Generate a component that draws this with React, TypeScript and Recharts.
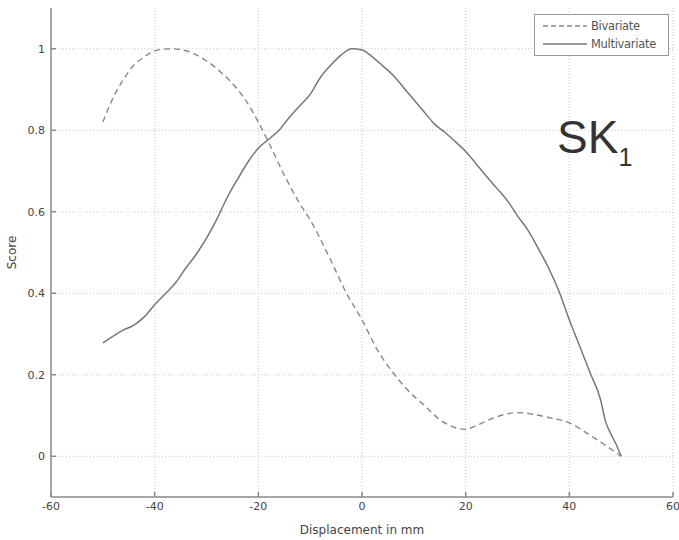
import {
  LineChart,
  Line,
  XAxis,
  YAxis,
  CartesianGrid,
  Legend,
} from "recharts";

const displacementTicks = [-60, -40, -20, 0, 20, 40, 60];
const scoreTicks = [0, 0.2, 0.4, 0.6, 0.8, 1];

const bivariateX = [
  -50, -48, -46, -44, -42, -40, -37, -34, -30, -27, -24, -22, -20, -18, -15,
  -12, -10, -6, -3, 0, 3, 6, 9, 12, 15, 18, 20, 22, 25, 28, 30, 33, 36, 40,
  43, 46, 48, 50,
];
const bivariateScore = [
  0.82, 0.88, 0.925, 0.96, 0.98, 0.995, 1.0, 0.995, 0.97, 0.94, 0.9, 0.865,
  0.82, 0.77, 0.69, 0.62, 0.58, 0.48, 0.4, 0.335, 0.26, 0.205, 0.16, 0.125,
  0.09, 0.07, 0.066, 0.075, 0.092, 0.104, 0.107, 0.103, 0.095, 0.082, 0.06,
  0.035, 0.018, 0.0,
];

const multivariateX = [
  -50, -48, -46, -44, -42, -40, -38, -36, -34, -32, -30, -28, -26, -24, -22,
  -20, -18, -16, -14, -12, -10, -8, -6, -4, -2, 0, 2, 4, 6, 8, 10, 12, 14, 16,
  18, 20, 22, 24, 26, 28, 30, 32, 34, 36, 38, 40, 42, 44, 46, 47, 48, 49, 50,
];
const multivariateScore = [
  0.278, 0.295, 0.31, 0.322, 0.342, 0.372, 0.398, 0.425, 0.462, 0.495, 0.535,
  0.582, 0.635, 0.68, 0.722, 0.756, 0.778, 0.8, 0.832, 0.86, 0.888, 0.93,
  0.96, 0.985, 1.0, 0.997, 0.98, 0.958, 0.935, 0.905, 0.875, 0.845, 0.815,
  0.795, 0.772, 0.748, 0.718, 0.687, 0.658, 0.628, 0.59, 0.555, 0.51, 0.462,
  0.405, 0.335, 0.27, 0.205, 0.14, 0.085, 0.055, 0.03, 0.0,
];

const bivariateData = bivariateX.map((x, i) => ({ x, score: bivariateScore[i] }));
const multivariateData = multivariateX.map((x, i) => ({
  x,
  score: multivariateScore[i],
}));

const FONT = "'DejaVu Sans', sans-serif";
const AXIS_COLOR = "#8a8a8a";

function LegendBox() {
  const row = { display: "flex", alignItems: "center", height: 18 };
  return (
    <div
      style={{
        border: "1px solid #999",
        background: "#fff",
        height: 42,
        boxSizing: "border-box",
        padding: "2px 0 0 8px",
        fontFamily: FONT,
        fontSize: 11.5,
        color: "#555",
        letterSpacing: -0.3,
      }}
    >
      <div style={row}>
        <svg width={44} height={10}>
          <line x1={0} y1={5} x2={44} y2={5} stroke="#888" strokeWidth={1.3} strokeDasharray="5 3" />
        </svg>
        <span style={{ marginLeft: 4 }}>Bivariate</span>
      </div>
      <div style={row}>
        <svg width={44} height={10}>
          <line x1={0} y1={5} x2={44} y2={5} stroke="#777" strokeWidth={1.5} />
        </svg>
        <span style={{ marginLeft: 4 }}>Multivariate</span>
      </div>
    </div>
  );
}

function App() {
  return (
    <div style={{ position: "absolute", left: 0, top: 0, width: 679, height: 540, background: "#fff" }}>
      <LineChart
        width={679}
        height={540}
        margin={{ top: 8, right: 6, left: 0, bottom: 0 }}
      >
        <CartesianGrid
          stroke="#c8c8c8"
          strokeDasharray="1 2"
          horizontalValues={scoreTicks}
          verticalValues={displacementTicks}
        />
        <XAxis
          dataKey="x"
          type="number"
          domain={[-60, 60]}
          ticks={displacementTicks}
          allowDataOverflow
          height={43}
          stroke={AXIS_COLOR}
          strokeWidth={1.5}
          tickSize={-5}
          tickMargin={10}
          tick={{ fill: "#444", fontSize: 11, fontFamily: FONT }}
          label={{
            value: "Displacement in mm",
            position: "insideBottom",
            offset: 6,
            fill: "#444",
            fontSize: 12,
            fontFamily: FONT,
          }}
        />
        <XAxis
          xAxisId="top"
          orientation="top"
          type="number"
          domain={[-60, 60]}
          ticks={displacementTicks}
          allowDataOverflow
          height={0}
          stroke={AXIS_COLOR}
          strokeWidth={1.5}
          tickSize={-5}
          tick={false}
        />
        <YAxis
          type="number"
          domain={[-0.1, 1.1]}
          ticks={scoreTicks}
          allowDataOverflow
          width={51}
          stroke={AXIS_COLOR}
          strokeWidth={1.5}
          tickSize={-5}
          tickMargin={11}
          tick={{ fill: "#444", fontSize: 11, fontFamily: FONT }}
          label={{
            value: "Score",
            angle: -90,
            position: "insideLeft",
            offset: 12,
            fill: "#444",
            fontSize: 12,
            fontFamily: FONT,
            style: { textAnchor: "middle" },
          }}
        />
        <YAxis
          yAxisId="right"
          orientation="right"
          type="number"
          domain={[-0.1, 1.1]}
          ticks={scoreTicks}
          allowDataOverflow
          width={0}
          stroke={AXIS_COLOR}
          strokeWidth={1.5}
          tickSize={-5}
          tick={false}
        />
        <Legend
          layout="vertical"
          align="center"
          verticalAlign="middle"
          content={() => <LegendBox />}
          wrapperStyle={{ top: 14, left: 534, right: "auto", bottom: "auto", width: 135 }}
        />
        <Line
          data={bivariateData}
          dataKey="score"
          name="Bivariate"
          type="monotone"
          stroke="#888"
          strokeWidth={1.4}
          strokeDasharray="6 4"
          dot={false}
          isAnimationActive={false}
        />
        <Line
          data={multivariateData}
          dataKey="score"
          name="Multivariate"
          type="monotone"
          stroke="#777"
          strokeWidth={1.5}
          dot={false}
          isAnimationActive={false}
        />
      </LineChart>
      <svg
        width={679}
        height={540}
        style={{ position: "absolute", left: 0, top: 0, pointerEvents: "none" }}
      >
        <text
          x={557}
          y={153}
          fill="#333"
          fontSize={46}
          fontFamily="'Liberation Sans', Arial, sans-serif"
        >
          SK
          <tspan dy={13} fontSize={25}>
            1
          </tspan>
        </text>
      </svg>
    </div>
  );
}

export default App;
